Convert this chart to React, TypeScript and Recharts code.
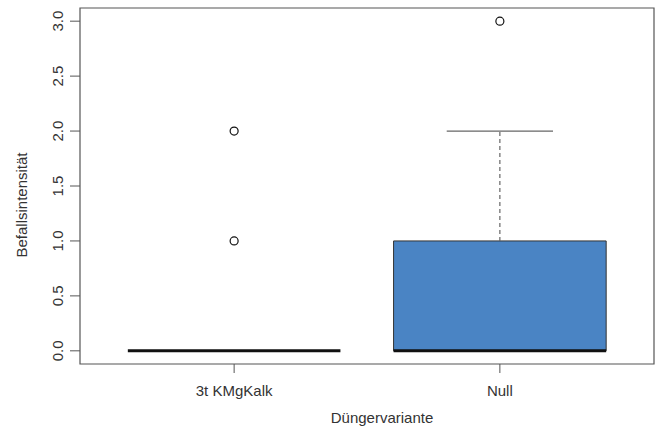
import React from "react";
import {
    ComposedChart,
    Scatter,
    XAxis,
    YAxis,
    ReferenceArea,
    ReferenceLine,
} from "recharts";

// Boxplot summary per fertilizer variant
const categories = ["3t KMgKalk", "Null"];
const lowerWhisker = [0, 0];
const q1 = [0, 0];
const medians = [0, 0];
const q3 = [0, 1];
const upperWhisker = [0, 2];
const outliers = [[1, 2], [3]];
const yTicks = [0, 0.5, 1, 1.5, 2, 2.5, 3];

const BOX_HALF = 0.4;
const CAP_HALF = 0.2;
const FONT = "'Liberation Sans', Arial, Helvetica, sans-serif";

const outlierData = outliers.flatMap((vals, i) => vals.map((v) => ({ x: i + 1, y: v })));

const RotatedTick = (props: any) => {
    const { x, y, payload } = props;
    return (
        <text
            x={x}
            y={y}
            transform={`rotate(-90 ${x} ${y})`}
            textAnchor="middle"
            fontSize={15}
            fontFamily={FONT}
            fill="#333"
        >
            {Number(payload.value).toFixed(1)}
        </text>
    );
};

const OpenCircle = (props: any) => {
    const { cx, cy } = props;
    return <circle cx={cx} cy={cy} r={4} fill="white" stroke="#111" strokeWidth={1.2} />;
};

export default function App() {
    return (
        <div style={{ position: "absolute", left: 0, top: 0, background: "white" }}>
            <ComposedChart
                width={657}
                height={430}
                data={outlierData}
                margin={{ top: 8, right: 3, left: 0, bottom: 0 }}
            >
                <XAxis
                    type="number"
                    dataKey="x"
                    domain={[0.42, 2.58]}
                    ticks={[1, 2]}
                    allowDataOverflow
                    height={66}
                    axisLine={false}
                    tickSize={9}
                    tickMargin={12}
                    tickLine={{ stroke: "#555" }}
                    tick={{ fontSize: 15, fill: "#333", fontFamily: FONT }}
                    tickFormatter={(v: number) => categories[v - 1]}
                    label={{
                        content: () => (
                            <text
                                x={382}
                                y={423}
                                textAnchor="middle"
                                fontSize={15}
                                fontFamily={FONT}
                                fill="#333"
                            >
                                Düngervariante
                            </text>
                        ),
                    }}
                />
                <YAxis
                    type="number"
                    dataKey="y"
                    domain={[-0.12, 3.12]}
                    ticks={yTicks}
                    allowDataOverflow
                    width={80}
                    axisLine={false}
                    tickSize={10}
                    tickMargin={7}
                    tickLine={{ stroke: "#555" }}
                    tick={<RotatedTick />}
                    label={{
                        content: () => (
                            <text
                                x={27}
                                y={205}
                                transform="rotate(-90 27 205)"
                                textAnchor="middle"
                                fontSize={15}
                                fontFamily={FONT}
                                fill="#333"
                            >
                                Befallsintensität
                            </text>
                        ),
                    }}
                />

                {/* boxes */}
                {categories.map((c, i) => (
                    <ReferenceArea
                        key={`box-${c}`}
                        x1={i + 1 - BOX_HALF}
                        x2={i + 1 + BOX_HALF}
                        y1={q1[i]}
                        y2={q3[i]}
                        fill="#4A84C4"
                        fillOpacity={1}
                        stroke="#333"
                        strokeWidth={1}
                        ifOverflow="visible"
                    />
                ))}

                {/* whiskers */}
                {categories.map((c, i) => (
                    <ReferenceLine
                        key={`wu-${c}`}
                        segment={[{ x: i + 1, y: q3[i] }, { x: i + 1, y: upperWhisker[i] }]}
                        stroke="#666"
                        strokeWidth={1.2}
                        strokeDasharray="4 3"
                        ifOverflow="visible"
                    />
                ))}
                {categories.map((c, i) => (
                    <ReferenceLine
                        key={`wl-${c}`}
                        segment={[{ x: i + 1, y: lowerWhisker[i] }, { x: i + 1, y: q1[i] }]}
                        stroke="#666"
                        strokeWidth={1.2}
                        strokeDasharray="4 3"
                        ifOverflow="visible"
                    />
                ))}
                {categories.map((c, i) => (
                    <ReferenceLine
                        key={`cu-${c}`}
                        segment={[{ x: i + 1 - CAP_HALF, y: upperWhisker[i] }, { x: i + 1 + CAP_HALF, y: upperWhisker[i] }]}
                        stroke="#666"
                        strokeWidth={1.2}
                        ifOverflow="visible"
                    />
                ))}
                {categories.map((c, i) => (
                    <ReferenceLine
                        key={`cl-${c}`}
                        segment={[{ x: i + 1 - CAP_HALF, y: lowerWhisker[i] }, { x: i + 1 + CAP_HALF, y: lowerWhisker[i] }]}
                        stroke="#666"
                        strokeWidth={1.2}
                        ifOverflow="visible"
                    />
                ))}

                {/* medians */}
                {categories.map((c, i) => (
                    <ReferenceLine
                        key={`med-${c}`}
                        segment={[{ x: i + 1 - BOX_HALF, y: medians[i] }, { x: i + 1 + BOX_HALF, y: medians[i] }]}
                        stroke="#111"
                        strokeWidth={3}
                        ifOverflow="visible"
                    />
                ))}

                {/* plot frame */}
                <ReferenceArea
                    x1={0.42}
                    x2={2.58}
                    y1={-0.12}
                    y2={3.12}
                    fill="none"
                    stroke="#555"
                    strokeWidth={1.2}
                    ifOverflow="visible"
                />

                <Scatter dataKey="y" shape={<OpenCircle />} isAnimationActive={false} />
            </ComposedChart>
        </div>
    );
}
